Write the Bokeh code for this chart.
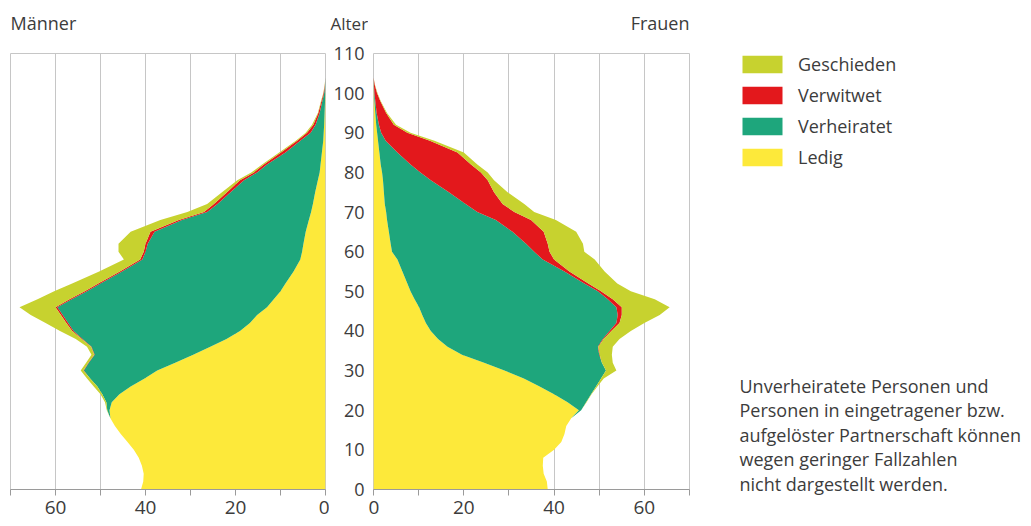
from bokeh.plotting import figure
from bokeh.models import (Range1d, FixedTicker, Legend, LegendItem, ColumnDataSource,
                          Title)
from bokeh.layouts import row
from bokeh.embed import file_html
from bokeh.resources import INLINE
from bokeh.core.properties import value

# ---------------- data (Tausend Personen je Altersjahr) ----------------
ages = [0, 2, 4, 6, 8, 10, 12, 14, 16, 18, 20, 22, 24, 26, 28, 30, 32, 34, 36, 38,
        40, 42, 44, 46, 48, 50, 52, 55, 58, 60, 62, 65, 68, 70, 72, 75, 78, 80, 82,
        85, 88, 90, 92, 95, 98, 100, 102, 104]

m_ledig = [41, 40.5, 40.4, 40.8, 41.5, 42.6, 44, 45.5, 46.8, 47.8, 48, 47.5, 45.8, 43.3,
           40.2, 37.4, 33.4, 29.4, 25.6, 22, 19, 16.8, 15.2, 13, 11.5, 10, 8.9, 7.1, 5.6,
           5.2, 4.9, 4.4, 3.7, 3.2, 2.8, 2.3, 1.7, 1.3, 1.1, 0.8, 0.5, 0.4, 0.3, 0.2, 0.1,
           0.05, 0, 0]
m_verheiratet = [0, 0, 0, 0, 0, 0, 0, 0, 0, 0, 0.5, 1.2, 3.8, 7.4, 12.1, 16.3, 19.2, 21.9,
                 26.4, 32, 37, 40.4, 43.2, 46.6, 44.9, 43, 41.1, 38.1, 35.1, 34.8, 34.6,
                 33.6, 28.2, 23.1, 21.2, 18.8, 16.4, 13.9, 11.9, 8.1, 5.1, 2.9, 1.9, 1.1,
                 0.6, 0.25, 0.1, 0]
m_verwitwet = [0, 0, 0, 0, 0, 0, 0, 0, 0, 0, 0, 0, 0, 0, 0, 0.1, 0.1, 0.1, 0.1, 0.2, 0.3,
               0.4, 0.4, 0.4, 0.5, 0.5, 0.5, 0.5, 0.5, 0.4, 0.5, 0.9, 0.7, 0.7, 0.8, 0.8,
               0.9, 0.7, 0.7, 1.0, 0.7, 0.8, 0.5, 0.3, 0.2, 0.15, 0.05, 0]
m_geschieden = [0, 0, 0, 0, 0, 0, 0, 0, 0, 0, 0.1, 0.3, 0.4, 0.8, 0.7, 0.6, 0.5, 0.6, 0.9,
                1.3, 2.7, 4.6, 6.7, 8, 7.1, 6.8, 5.8, 4.6, 3.6, 5.6, 6, 4.4, 4.1, 3.7, 1.5,
                1.1, 0.6, 0.6, 0.4, 0.4, 0.3, 0.3, 0.3, 0.1, 0.1, 0.05, 0.05, 0]

f_ledig = [38.6, 38.4, 37.7, 37.5, 37.6, 40, 41.6, 42.3, 42.7, 43.8, 45.5, 43, 40, 36.8,
           33.3, 29, 24.5, 19.6, 16.4, 14.3, 12.7, 11.6, 10.8, 10.1, 9.1, 8.2, 7.5, 6.4,
           5.3, 4.1, 3.8, 3.4, 3.0, 2.8, 2.5, 2.3, 2.1, 1.9, 1.6, 1.3, 1.0, 0.8, 0.6, 0.4,
           0.2, 0.1, 0.05, 0]
f_verheiratet = [0, 0, 0, 0, 0, 0, 0, 0, 0, 0, 0.5, 4.1, 8.2, 12.5, 17.1, 22.5, 26.1, 30.4,
                 33.3, 36.5, 39.6, 42.2, 43.3, 43.7, 42.8, 41.5, 39.2, 35.9, 32.2, 31.5, 30,
                 27.4, 24.1, 20.2, 17.9, 14.4, 10.6, 8.5, 6.6, 4, 1.7, 0.9, 0.6, 0.3, 0.2,
                 0.1, 0.05, 0]
f_verwitwet = [0, 0, 0, 0, 0, 0, 0, 0, 0, 0, 0, 0, 0, 0, 0, 0, 0, 0.1, 0.1, 0.2, 0.4, 0.7,
               0.9, 1.2, 1.1, 0.7, 0.9, 1.1, 2.5, 3.4, 4.8, 6.9, 7.8, 8.2, 8.2, 10, 12.6,
               13.4, 13.4, 13.3, 9.8, 5.8, 3.3, 2.1, 1.1, 0.6, 0.2, 0]
f_geschieden = [0, 0, 0, 0, 0, 0, 0, 0, 0, 0, 0, 0.1, 0.1, 0.3, 0.6, 2.3, 2.4, 2.7, 3.2,
                3.5, 4.3, 5.5, 8.4, 10.6, 9.3, 6.6, 6.4, 7.8, 9, 7.7, 7.8, 7.2, 5.5, 4.4,
                4.8, 3, 1.4, 1.5, 1.4, 1.4, 1.0, 0.7, 0.5, 0.2, 0.1, 0.1, 0.05, 0]

categories = ["Ledig", "Verheiratet", "Verwitwet", "Geschieden"]
x_ticks = [0, 20, 40, 60]
x_minor = [10, 30, 50, 70]
age_ticks = [0, 10, 20, 30, 40, 50, 60, 70, 80, 90, 100, 110]
note_lines = ["Unverheiratete Personen und",
              "Personen in eingetragener bzw.",
              "aufgelöster Partnerschaft können",
              "wegen geringer Fallzahlen",
              "nicht dargestellt werden."]

# ---------------- styling / layout ----------------
colors = ["#fde93a", "#1ea67c", "#e3181c", "#c7d22f"]
FONT = "Open Sans"
TEXT = "#3c3c3c"
GRID = "#c6c6c6"
AXIS = "#9a9a9a"
TOP = 53          # frame top (px)
FRAME_H = 436     # frame height (px)
BOTTOM = 37       # below frame
H = TOP + FRAME_H + BOTTOM
Y_MAX = 110
keys = ["ledig", "verheiratet", "verwitwet", "geschieden"]


def base_fig(frame_height=FRAME_H, bottom=BOTTOM, **kw):
    p = figure(frame_height=frame_height, min_border_top=TOP, min_border_bottom=bottom,
               output_backend="svg", toolbar_location=None, title=None, **kw)
    p.background_fill_color = "white"
    p.border_fill_color = "white"
    return p


def set_title(p, text, align, size="18px", offset=0):
    # a blank title next to the frame acts as spacer and lifts the real title
    p.add_layout(Title(text=" ", text_font=FONT, text_font_size="8px", standoff=4),
                 "above")
    t = Title(text=text, align=align, offset=offset, text_font=FONT,
              text_font_style="normal", text_font_size=size, text_color=TEXT,
              standoff=4)
    p.add_layout(t, "above")


def panel(x_range, bl, fw, br, src, title, align):
    p = base_fig(frame_width=fw, min_border_left=bl, min_border_right=br,
                 x_range=x_range, y_range=Range1d(0, Y_MAX), y_axis_location=None)
    rs = p.harea_stack(stackers=keys, y="age", source=src, fill_color=colors,
                       fill_alpha=1.0)
    ticker = FixedTicker(ticks=x_ticks, minor_ticks=x_minor)
    ax = p.below[0]
    ax.ticker = ticker
    p.xgrid.ticker = ticker
    p.xgrid.grid_line_color = GRID
    p.xgrid.minor_grid_line_color = GRID
    p.ygrid.visible = False
    p.outline_line_color = GRID
    ax.axis_line_color = AXIS
    ax.major_tick_line_color = AXIS
    ax.minor_tick_line_color = AXIS
    ax.major_tick_in = 0
    ax.major_tick_out = 6
    ax.minor_tick_in = 0
    ax.minor_tick_out = 6
    ax.major_label_standoff = 5
    ax.major_label_text_font = FONT
    ax.major_label_text_font_size = "19px"
    ax.major_label_text_color = TEXT
    set_title(p, title, align)
    return p, rs


src_m = ColumnDataSource(dict(age=ages, ledig=m_ledig, verheiratet=m_verheiratet,
                              verwitwet=m_verwitwet, geschieden=m_geschieden))
src_f = ColumnDataSource(dict(age=ages, ledig=f_ledig, verheiratet=f_verheiratet,
                              verwitwet=f_verwitwet, geschieden=f_geschieden))

# Männer (x axis reversed): canvas 0..329, frame 10..325
p_m, rs_m = panel(Range1d(70, 0), 10, 315, 4, src_m, "Männer", "left")

# middle: age axis + "Alter": canvas 329..368
p_a = base_fig(frame_width=4, min_border_left=35, min_border_right=0,
               x_range=Range1d(0, 1), y_range=Range1d(0, Y_MAX), x_axis_location=None)
set_title(p_a, "Alter", "left", size="17px", offset=-34)
p_a.grid.visible = False
p_a.outline_line_color = None
ya = p_a.left[0]
ya.ticker = FixedTicker(ticks=age_ticks)
ya.axis_line_color = None
ya.major_tick_line_color = None
ya.minor_tick_line_color = None
ya.major_tick_out = 0
ya.major_tick_in = 0
ya.major_label_standoff = 0
ya.major_label_text_font = FONT
ya.major_label_text_font_size = "18px"
ya.major_label_text_color = TEXT

# Frauen: canvas 368..695, frame 373..689
p_f, rs_f = panel(Range1d(0, 70), 5, 316, 6, src_f, "Frauen", "right")

# legend + note panel (this panel's coordinates are page pixels): canvas 695..1031
LX0, LX1 = 695, 1031
p_l = base_fig(frame_height=H - TOP, bottom=0, frame_width=LX1 - LX0,
               min_border_left=0, min_border_right=0,
               x_range=Range1d(LX0, LX1), y_range=Range1d(H, TOP),
               x_axis_location=None, y_axis_location=None)
p_l.grid.visible = False
p_l.outline_line_color = None
# same stacks, lying outside this panel's view: they only feed the legend swatches
rs_l = p_l.harea_stack(stackers=keys, y="age", source=src_f, fill_color=colors,
                       fill_alpha=1.0)
items = [LegendItem(label=c, renderers=[r]) for c, r in zip(categories, rs_l)][::-1]
legend = Legend(items=items, location=(737 - LX0, H - 169),
                orientation="vertical", glyph_width=50, glyph_height=22,
                label_height=22, label_width=10, spacing=7, label_standoff=11,
                padding=0, margin=0, border_line_color=None, background_fill_alpha=0,
                label_text_font=FONT, label_text_font_size="18px",
                label_text_color=TEXT, label_text_baseline="middle")
p_l.add_layout(legend, "center")

note_top, note_step = 385, 24.5
p_l.text(x=[739] * len(note_lines),
         y=[note_top + i * note_step for i in range(len(note_lines))],
         text=note_lines, text_align="left", text_baseline="middle",
         text_font=value(FONT), text_font_size="18px", text_color=TEXT)

layout = row(p_m, p_a, p_f, p_l, spacing=0)

open("out.html", "w").write(file_html(layout, INLINE))
